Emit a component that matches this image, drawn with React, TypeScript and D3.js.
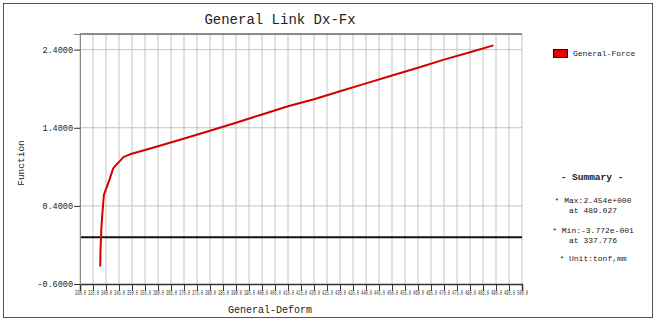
import React, { useEffect, useRef } from "react";
import * as d3 from "d3";

// Force-deformation curve of the general link (Dx-Fx)
const deform: number[] = [
  337.776, 337.9, 338.2, 338.6, 339.2, 341.3, 342.8, 346.7, 349.2, 355, 360, 368.5,
  380, 390, 400, 410, 420, 430, 440, 450, 460, 470, 480, 489.027,
];
const force: number[] = [
  -0.3772, -0.15, 0.1, 0.3, 0.541, 0.733, 0.883, 1.024, 1.06, 1.116, 1.164, 1.246,
  1.361, 1.465, 1.57, 1.675, 1.765, 1.868, 1.968, 2.068, 2.168, 2.272, 2.366, 2.454,
];

const xTicks: number[] = d3.range(330, 500.001, 5);
const yTicks: number[] = [-0.6, 0.4, 1.4, 2.4];

const seriesName = "General-Force";
const summaryLines: string[] = [
  "* Max:2.454e+000",
  "at 489.027",
  "* Min:-3.772e-001",
  "at 337.776",
  "* Unit:tonf,mm",
];

const W = 657;
const H = 323;
const M = { left: 80, right: 522, top: 34, bottom: 284 };
const FONT = "'Liberation Mono', 'DejaVu Sans Mono', monospace";

export default function App() {
  const ref = useRef<SVGSVGElement>(null);

  useEffect(() => {
    const svg = d3.select(ref.current);
    svg.selectAll("*").remove();

    const x = d3.scaleLinear().domain([330, 500]).range([M.left, M.right]);
    const y = d3.scaleLinear().domain([-0.6, 2.6]).range([M.bottom, M.top]);

    svg.append("rect").attr("width", W).attr("height", H).attr("fill", "#fff");
    svg
      .append("rect")
      .attr("x", 3.5)
      .attr("y", 3.5)
      .attr("width", 649)
      .attr("height", 314)
      .attr("fill", "none")
      .attr("stroke", "#555")
      .attr("stroke-width", 1);

    // title
    svg
      .append("text")
      .attr("x", 280)
      .attr("y", 24)
      .attr("text-anchor", "middle")
      .attr("font-family", FONT)
      .attr("font-size", 14)
      .attr("fill", "#222")
      .text("General Link Dx-Fx");

    // vertical grid
    svg
      .append("g")
      .selectAll("line")
      .data(xTicks)
      .join("line")
      .attr("x1", (d) => x(d))
      .attr("x2", (d) => x(d))
      .attr("y1", M.top)
      .attr("y2", M.bottom)
      .attr("stroke", "#c4c4c4")
      .attr("stroke-width", 1);

    // horizontal grid
    svg
      .append("g")
      .selectAll("line")
      .data(yTicks.filter((d) => d > -0.6))
      .join("line")
      .attr("x1", M.left)
      .attr("x2", M.right)
      .attr("y1", (d) => y(d))
      .attr("y2", (d) => y(d))
      .attr("stroke", "#c4c4c4")
      .attr("stroke-width", 1);

    // top frame
    svg
      .append("line")
      .attr("x1", M.left)
      .attr("x2", M.right)
      .attr("y1", M.top)
      .attr("y2", M.top)
      .attr("stroke", "#666")
      .attr("stroke-width", 1.5);

    // zero line
    svg
      .append("line")
      .attr("x1", M.left)
      .attr("x2", M.right)
      .attr("y1", y(0))
      .attr("y2", y(0))
      .attr("stroke", "#111")
      .attr("stroke-width", 2);

    // x axis: dense labels squeezed horizontally to fit the 5-unit spacing
    const xAxis = d3
      .axisBottom(x)
      .tickValues(xTicks)
      .tickSize(7)
      .tickFormat((d) => (d as number).toFixed(1));
    const gx = svg.append("g").attr("transform", `translate(0,${M.bottom})`).call(xAxis);
    gx.select(".domain").attr("stroke", "#333").attr("stroke-width", 1.5);
    gx.selectAll(".tick line").attr("stroke", "#333");
    gx.selectAll(".tick text")
      .attr("font-family", FONT)
      .attr("font-size", 7.5)
      .attr("fill", "#333")
      .attr("dy", "0.1em")
      .attr("transform", "scale(0.5,1)");

    // y axis
    const yAxis = d3
      .axisLeft(y)
      .tickValues(yTicks)
      .tickSize(6)
      .tickFormat((d) => (d as number).toFixed(4));
    const gy = svg.append("g").attr("transform", `translate(${M.left},0)`).call(yAxis);
    gy.select(".domain").attr("stroke", "#888").attr("stroke-width", 1);
    gy.selectAll(".tick line").attr("stroke", "#333");
    gy.selectAll(".tick text")
      .attr("font-family", FONT)
      .attr("font-size", 8.5)
      .attr("fill", "#222")
      .attr("x", -7);

    // axis titles
    svg
      .append("text")
      .attr("x", 270)
      .attr("y", 313)
      .attr("text-anchor", "middle")
      .attr("font-family", FONT)
      .attr("font-size", 10)
      .attr("fill", "#222")
      .text("General-Deform");
    svg
      .append("text")
      .attr("transform", `translate(24,${163}) rotate(-90)`)
      .attr("text-anchor", "middle")
      .attr("font-family", FONT)
      .attr("font-size", 9.5)
      .attr("fill", "#222")
      .text("Function");

    // series
    const pts: [number, number][] = deform.map((d, i) => [d, force[i]]);
    const line = d3
      .line<[number, number]>()
      .x((d) => x(d[0]))
      .y((d) => y(d[1]));
    svg
      .append("path")
      .datum(pts)
      .attr("d", line)
      .attr("fill", "none")
      .attr("stroke", "#d40000")
      .attr("stroke-width", 2)
      .attr("stroke-linejoin", "round");

    // legend
    svg
      .append("rect")
      .attr("x", 553.5)
      .attr("y", 49.5)
      .attr("width", 14)
      .attr("height", 8)
      .attr("fill", "#e80000")
      .attr("stroke", "#300")
      .attr("stroke-width", 1);
    svg
      .append("text")
      .attr("x", 573)
      .attr("y", 56)
      .attr("font-family", FONT)
      .attr("font-size", 8)
      .attr("fill", "#222")
      .text(seriesName);

    // summary
    svg
      .append("text")
      .attr("x", 592)
      .attr("y", 180)
      .attr("text-anchor", "middle")
      .attr("font-family", FONT)
      .attr("font-size", 9.5)
      .attr("font-weight", "bold")
      .attr("fill", "#222")
      .text("- Summary -");
    const summaryY = [202.5, 212.5, 232.5, 242.5, 260.5];
    svg
      .append("g")
      .selectAll("text")
      .data(summaryLines)
      .join("text")
      .attr("x", 593)
      .attr("y", (_, i) => summaryY[i])
      .attr("text-anchor", "middle")
      .attr("font-family", FONT)
      .attr("font-size", 8)
      .attr("fill", "#222")
      .text((d) => d);
  }, []);

  return (
    <svg
      ref={ref}
      width={W}
      height={H}
      style={{ position: "absolute", left: 0, top: 0, display: "block" }}
    />
  );
}
